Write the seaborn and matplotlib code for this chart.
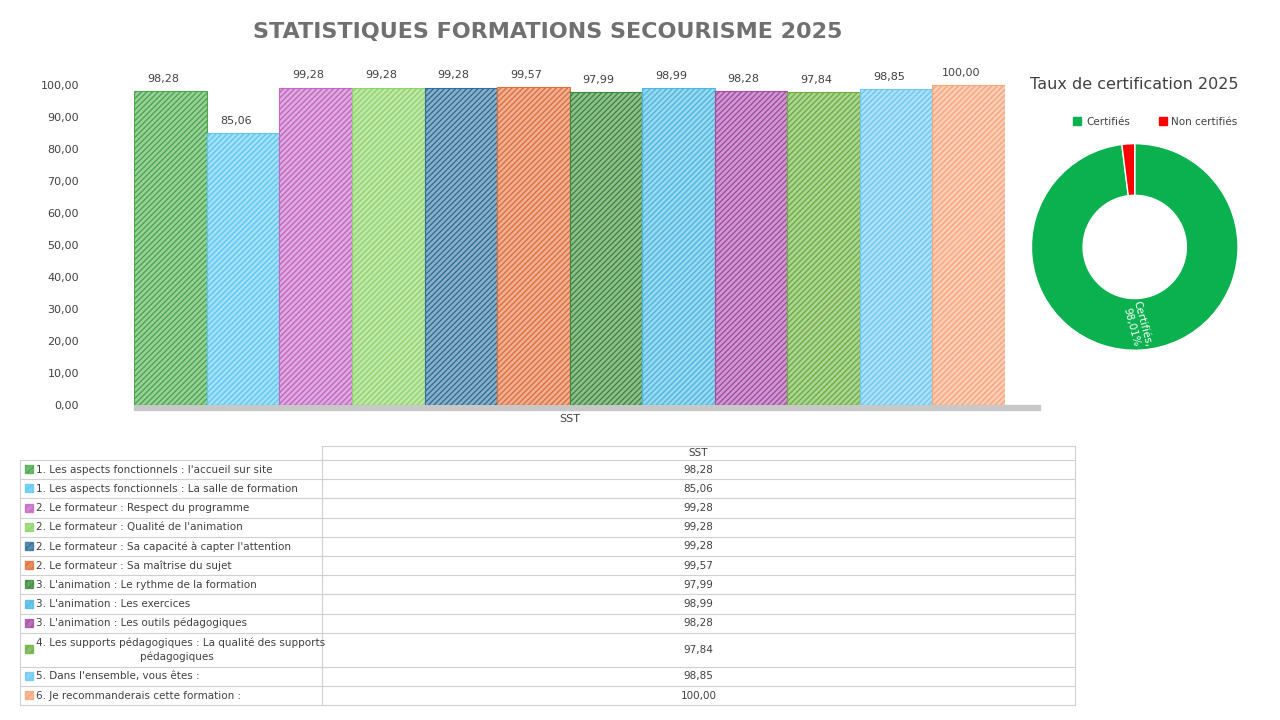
import matplotlib
matplotlib.use("Agg")
import matplotlib.pyplot as plt
import seaborn as sns
import pandas as pd

sns.set_theme(style="white")
plt.rcParams['font.family'] = ['DejaVu Sans']

labels = ["1. Les aspects fonctionnels : l'accueil sur site",
          "1. Les aspects fonctionnels : La salle de formation",
          "2. Le formateur : Respect du programme",
          "2. Le formateur : Qualité de l'animation",
          "2. Le formateur : Sa capacité à capter l'attention",
          "2. Le formateur : Sa maîtrise du sujet",
          "3. L'animation : Le rythme de la formation",
          "3. L'animation : Les exercices",
          "3. L'animation : Les outils pédagogiques",
          "4. Les supports pédagogiques : La qualité des supports\npédagogiques",
          "5. Dans l'ensemble, vous êtes :",
          "6. Je recommanderais cette formation :"]
values = [98.28, 85.06, 99.28, 99.28, 99.28, 99.57, 97.99, 98.99, 98.28, 97.84, 98.85, 100.00]
colors = ["#4aa84a", "#5cc8f0", "#c466c4", "#8ed468", "#2f6f9a", "#e0703c",
          "#3a8a3a", "#4ab8e0", "#a54aa5", "#6cb040", "#6cc8f0", "#f8a67c"]
pie_labels = ["Certifiés", "Non certifiés"]
pie_values = [98.01, 1.99]
pie_colors = ["#0bb04f", "#ff0000"]

fig = plt.figure(figsize=(12.8, 7.2), dpi=100)
fig.patch.set_facecolor("white")

ax = fig.add_axes([0.105, 0.437, 0.68, 0.458])
df = pd.DataFrame({"k": [str(i) for i in range(12)], "v": values})
sns.barplot(data=df, x="k", y="v", ax=ax, palette=colors, hue="k", legend=False,
            width=1.0, saturation=1)
for i, p in enumerate(ax.patches):
    c = p.get_facecolor()
    p.set_facecolor((c[0], c[1], c[2], 0.55))
    p.set_edgecolor(colors[i])
    p.set_hatch("//////")
    p.set_linewidth(0.8)
    ax.text(p.get_x() + p.get_width() / 2 - 0.1, values[i] + 2.2, f"{values[i]:.2f}".replace(".", ","),
            ha="center", va="bottom", fontsize=8, color="#404040")
ax.axhspan(-1.5, 0, xmin=0.0, xmax=1.04, color="#c8c8c8", clip_on=False, zorder=0)
ax.set_ylim(0, 103)
ax.set_xlim(-0.5, 11.5)
ax.set_yticks(range(0, 101, 10))
ax.set_yticklabels([f"{v:.2f}".replace(".", ",") for v in range(0, 101, 10)], fontsize=8, color="#404040")
ax.set_xticks([5.5])
ax.set_xticklabels(["SST"], fontsize=8, color="#404040")
ax.set_xlabel(""); ax.set_ylabel("")
for s in ax.spines.values():
    s.set_visible(False)
ax.tick_params(length=0, pad=40, axis="y")
ax.tick_params(length=0, pad=6, axis="x")
fig.text(0.428, 0.955, "STATISTIQUES FORMATIONS SECOURISME 2025", ha="center", va="center",
         fontsize=16, fontweight="bold", color="#707070")

# donut
ax2 = fig.add_axes([0.805, 0.512, 0.163, 0.29])
ax2.pie(pie_values, colors=pie_colors, startangle=90, counterclock=False, radius=1.0,
        wedgeprops=dict(width=0.5, edgecolor="white", linewidth=1))
ax2.set_xlim(-1.01, 1.01); ax2.set_ylim(-1.01, 1.01)
ax2.text(0.02, -0.76, "Certifiés,\n98,01%", rotation=-75, ha="center", va="center",
         color="white", fontsize=7.5)
ax2.set_aspect("equal")
fig.text(0.886, 0.876, "Taux de certification 2025", ha="center", fontsize=11.5, color="#404040")
fig.patches.append(plt.Rectangle((0.8385, 0.826), 0.006, 0.011, transform=fig.transFigure, color=pie_colors[0]))
fig.text(0.849, 0.831, pie_labels[0], fontsize=7.5, va="center", color="#404040")
fig.patches.append(plt.Rectangle((0.9055, 0.826), 0.006, 0.011, transform=fig.transFigure, color=pie_colors[1]))
fig.text(0.915, 0.831, pie_labels[1], fontsize=7.5, va="center", color="#404040")

# table
tax = fig.add_axes([0, 0, 1, 1]); tax.set_xlim(0, 1280); tax.set_ylim(720, 0); tax.axis("off")
x0, x1, x2 = 20, 322, 1075
lc = "#d0d0d0"
tops = [446, 460]
for i in range(12):
    tops.append(tops[-1] + (34 if i == 9 else 19.2))
tax.plot([x1, x2], [446, 446], color=lc, lw=0.8)
tax.plot([x1, x1], [446, tops[-1]], color=lc, lw=0.8)
tax.plot([x2, x2], [446, tops[-1]], color=lc, lw=0.8)
tax.plot([x0, x0], [460, tops[-1]], color=lc, lw=0.8)
tax.text((x1 + x2) / 2, 453, "SST", ha="center", va="center", fontsize=7.5, color="#404040")
for i in range(12):
    t, b = tops[i + 1], tops[i + 2]
    tax.plot([x0, x2], [t, t], color=lc, lw=0.8)
    m = (t + b) / 2
    tax.add_patch(plt.Rectangle((25, m - 4.5), 8, 8, facecolor=colors[i], edgecolor=colors[i], hatch="////", alpha=0.8))
    if "\n" in labels[i]:
        a, bb = labels[i].split("\n")
        tax.text(36, m - 7, a, va="center", fontsize=7.5, color="#404040")
        tax.text(177, m + 7, bb, va="center", ha="center", fontsize=7.5, color="#404040")
    else:
        tax.text(36, m, labels[i], va="center", fontsize=7.5, color="#404040")
    tax.text((x1 + x2) / 2, m, f"{values[i]:.2f}".replace(".", ","), ha="center", va="center", fontsize=7.5, color="#404040")
tax.plot([x0, x2], [tops[-1], tops[-1]], color=lc, lw=0.8)

fig.savefig("out.png", dpi=100, facecolor="white")
